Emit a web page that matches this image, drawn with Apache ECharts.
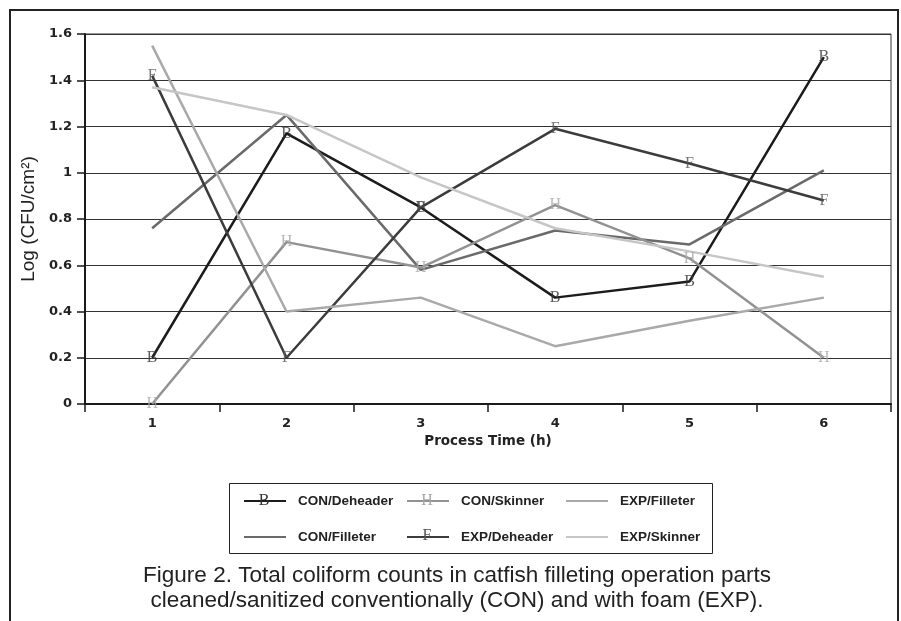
<!DOCTYPE html>
<html>
<head>
<meta charset="utf-8">
<title>Total coliform counts</title>
<script src="https://cdn.jsdelivr.net/npm/echarts@6/dist/echarts.min.js"></script>
<style>
  html, body { margin: 0; padding: 0; background: #fff; }
  #chart { width: 901px; height: 621px; }
</style>
</head>
<body>
<div id="chart"></div>
<script>
// Process time (h) and Log (CFU/cm²) readings for each part and cleaning method
const hours = ['1', '2', '3', '4', '5', '6'];
const conDeheader = [0.20, 1.17, 0.85, 0.46, 0.53, 1.50];
const conFilleter = [0.76, 1.25, 0.58, 0.75, 0.69, 1.01];
const conSkinner  = [0.00, 0.70, 0.59, 0.86, 0.63, 0.20];
const expDeheader = [1.42, 0.20, 0.85, 1.19, 1.04, 0.88];
const expFilleter = [1.55, 0.40, 0.46, 0.25, 0.36, 0.46];
const expSkinner  = [1.37, 1.25, 0.98, 0.76, 0.66, 0.55];

const SANS = '"Liberation Sans", Arial, sans-serif';
const WIDE = '"DejaVu Sans", sans-serif';
const SERIF = '"Liberation Serif", "DejaVu Serif", serif';

function lineSeries(name, data, color) {
  return {
    name: name,
    type: 'line',
    data: data,
    symbol: 'none',
    lineStyle: { color: color, width: 2.5 },
    itemStyle: { color: color },
    emphasis: { disabled: true },
    z: 2
  };
}

// letter markers drawn on the points of a series
function markSeries(name, data, color, letter) {
  return {
    name: name + ' marks',
    type: 'scatter',
    data: data,
    symbol: 'circle',
    symbolSize: 1,
    itemStyle: { color: 'rgba(0,0,0,0)' },
    label: {
      show: true,
      position: 'inside',
      formatter: letter,
      fontFamily: SERIF,
      fontSize: 16,
      color: color
    },
    emphasis: { disabled: true },
    z: 3
  };
}

const chart = echarts.init(document.getElementById('chart'), null, { renderer: 'canvas' });

const legendBase = {
  orient: 'vertical',
  top: 494,
  padding: 0,
  itemWidth: 42,
  itemHeight: 14,
  itemGap: 22,
  selectedMode: false,
  itemStyle: { opacity: 0 },
  textStyle: { fontFamily: SANS, fontSize: 13.5, fontWeight: 'bold', color: '#222', padding: [0, 0, 0, 7] }
};

chart.setOption({
  backgroundColor: '#fff',
  animation: false,
  title: {
    text: 'Figure 2. Total coliform counts in catfish filleting operation parts\ncleaned/sanitized conventionally (CON) and with foam (EXP).',
    left: 457,
    top: 563,
    padding: 0,
    textAlign: 'center',
    textStyle: { fontFamily: SANS, fontSize: 22.5, fontWeight: 'normal', color: '#222', lineHeight: 25 }
  },
  grid: {
    left: 85, right: 10, top: 34, bottom: 217,
    show: true, borderColor: '#333', borderWidth: 1, backgroundColor: 'transparent'
  },
  xAxis: {
    type: 'category',
    data: hours,
    boundaryGap: true,
    name: 'Process Time (h)',
    nameLocation: 'middle',
    nameGap: 30,
    nameTextStyle: { fontFamily: WIDE, fontSize: 13.5, fontWeight: 'bold', color: '#222' },
    axisLine: { lineStyle: { color: '#1a1a1a', width: 2 } },
    axisTick: { show: true, length: 8, lineStyle: { color: '#1a1a1a', width: 1.5 } },
    axisLabel: { fontFamily: WIDE, fontSize: 13, fontWeight: 'bold', color: '#222', margin: 13 },
    splitLine: { show: false }
  },
  yAxis: {
    type: 'value',
    min: 0, max: 1.6, interval: 0.2,
    name: 'Log (CFU/cm²)',
    nameLocation: 'middle',
    nameGap: 37,
    nameTextStyle: { fontFamily: SANS, fontSize: 19, color: '#222' },
    axisLine: { show: true, lineStyle: { color: '#1a1a1a', width: 2 } },
    axisTick: { show: true, length: 8, lineStyle: { color: '#1a1a1a', width: 1.5 } },
    axisLabel: { fontFamily: WIDE, fontSize: 13, fontWeight: 'bold', color: '#222', margin: 13 },
    splitLine: { show: true, lineStyle: { color: '#333', width: 1 } }
  },
  legend: [
    Object.assign({ left: 243, data: ['CON/Deheader', 'CON/Filleter'] }, legendBase),
    Object.assign({ left: 406, data: ['CON/Skinner', 'EXP/Deheader'] }, legendBase),
    Object.assign({ left: 565, data: ['EXP/Filleter', 'EXP/Skinner'] }, legendBase)
  ],
  series: [
    lineSeries('CON/Deheader', conDeheader, '#1c1c1c'),
    lineSeries('CON/Filleter', conFilleter, '#6a6a6a'),
    lineSeries('CON/Skinner', conSkinner, '#929292'),
    lineSeries('EXP/Deheader', expDeheader, '#3c3c3c'),
    lineSeries('EXP/Filleter', expFilleter, '#a9a9a9'),
    lineSeries('EXP/Skinner', expSkinner, '#c6c6c6'),
    markSeries('CON/Deheader', conDeheader, '#333', 'B'),
    markSeries('CON/Skinner', conSkinner, '#a8a8a8', 'H'),
    markSeries('EXP/Deheader', expDeheader, '#555', 'F')
  ],
  graphic: [
    // page frame
    {
      type: 'polyline',
      shape: { points: [[10, 621], [10, 10], [898, 10], [898, 621]] },
      style: { stroke: '#222', lineWidth: 2, fill: null },
      silent: true
    },
    // legend box
    {
      type: 'rect',
      shape: { x: 229.5, y: 483.5, width: 483, height: 70 },
      style: { stroke: '#222', lineWidth: 1, fill: null },
      silent: true
    },
    // marker letters on the legend lines
    { type: 'text', x: 264, y: 501, style: { text: 'B', font: '16px ' + SERIF, fill: '#333', align: 'center', verticalAlign: 'middle' }, silent: true, z: 10 },
    { type: 'text', x: 427, y: 501, style: { text: 'H', font: '16px ' + SERIF, fill: '#a8a8a8', align: 'center', verticalAlign: 'middle' }, silent: true, z: 10 },
    { type: 'text', x: 427, y: 536, style: { text: 'F', font: '16px ' + SERIF, fill: '#555', align: 'center', verticalAlign: 'middle' }, silent: true, z: 10 }
  ]
});
</script>
</body>
</html>
